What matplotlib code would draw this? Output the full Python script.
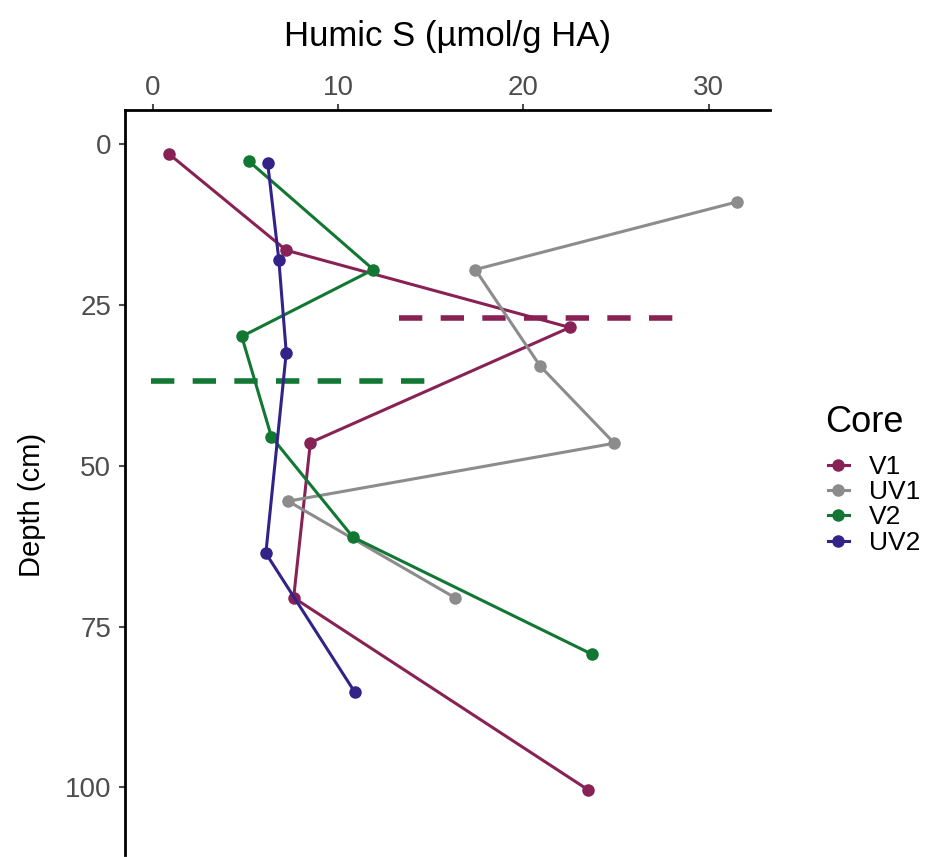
import matplotlib
matplotlib.use("Agg")
import matplotlib.pyplot as plt

plt.rcParams['font.family'] = ['Liberation Sans', 'DejaVu Sans']

# humic S (umol/g HA) vs depth (cm) for each core
cores = ["V1", "UV1", "V2", "UV2"]
colors = {"V1": "#882255", "UV1": "#8C8C8C", "V2": "#117733", "UV2": "#332288"}

v1_s = [0.9, 7.2, 22.5, 8.5, 7.6, 23.5]
v1_depth = [1.6, 16.5, 28.5, 46.4, 70.5, 100.4]

uv1_s = [31.5, 17.4, 20.9, 24.9, 7.3, 16.3]
uv1_depth = [9.0, 19.5, 34.5, 46.5, 55.5, 70.5]

v2_s = [5.2, 11.9, 4.8, 6.4, 10.8, 23.7]
v2_depth = [2.7, 19.5, 29.9, 45.5, 61.1, 79.3]

uv2_s = [6.2, 6.8, 7.2, 6.1, 10.9]
uv2_depth = [3.0, 18.0, 32.4, 63.6, 85.2]

series = {"V1": (v1_s, v1_depth), "UV1": (uv1_s, uv1_depth),
          "V2": (v2_s, v2_depth), "UV2": (uv2_s, uv2_depth)}

# dashed reference lines: (core, depth, x start, x end)
ref_lines = [("V1", 27.0, 13.3, 28.4), ("V2", 36.8, -0.1, 15.0)]

xticks = [0, 10, 20, 30]
yticks = [0, 25, 50, 75, 100]

fig = plt.figure(figsize=(9.32, 8.57), dpi=100)
ax = fig.add_axes([125/932, 2/857, (770-125)/932, (857-2-110)/857])

for c in cores:
    s, d = series[c]
    ax.plot(s, d, color=colors[c], lw=2.2, marker='o', ms=8, label=c, zorder=3)

for c, dep, x0, x1 in ref_lines:
    ax.plot([x0, x1], [dep, dep], color=colors[c], lw=4, ls=(0, (4.2, 3.3)),
            solid_capstyle='butt', dash_capstyle='butt', zorder=2)

ax.set_xlim(-1.5, 33.3)
ax.set_ylim(110.5, -5.3)
ax.xaxis.tick_top()
ax.xaxis.set_label_position('top')
ax.set_xticks(xticks)
ax.set_yticks(yticks)
ax.tick_params(colors='#4D4D4D', labelsize=20, width=1.5, length=4.5)
ax.tick_params(axis='x', pad=2)
ax.tick_params(axis='y', pad=5.5)

for sp in ['right', 'bottom']:
    ax.spines[sp].set_visible(False)
for sp in ['top', 'left']:
    ax.spines[sp].set_linewidth(2)
    ax.spines[sp].set_color('black')

ax.set_xlabel("Humic S (\u00b5mol/g HA)", fontsize=25, labelpad=21)
ax.set_ylabel("Depth (cm)", fontsize=21)
ax.yaxis.set_label_coords(-0.122, 0.47)

ax.legend(loc='upper left', bbox_to_anchor=(804/932, 0.497),
          bbox_transform=fig.transFigure, frameon=False, fontsize=19,
          handlelength=0.8, handletextpad=0.75, labelspacing=0.05)
fig.text(825/932, 1 - 423/857, "Core", fontsize=26, ha='left', va='center')

fig.savefig("out.png", dpi=100)
